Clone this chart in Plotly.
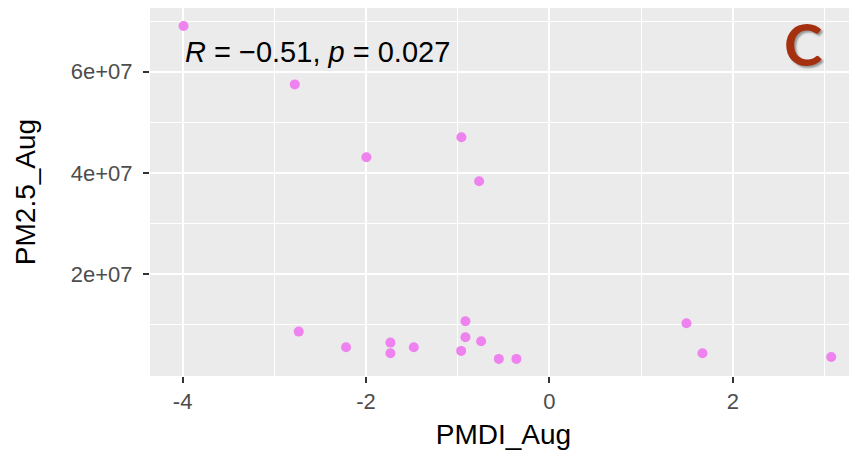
import plotly.graph_objects as go

# Data
pmdi_aug = [-3.99, -2.777, -1.996, -0.96, -0.767, -2.734, -2.218, -1.734, -1.734, -1.479,
            -0.963, -0.916, -0.916, -0.745, -0.552, -0.36, 1.494, 1.669, 3.073]
pm25_aug = [6.904e7, 5.751e7, 4.31e7, 4.705e7, 3.836e7, 0.867e7, 0.559e7, 0.650e7, 0.440e7, 0.559e7,
            0.486e7, 1.072e7, 0.756e7, 0.677e7, 0.328e7, 0.328e7, 1.033e7, 0.440e7, 0.367e7]

x_tick_vals = [-4, -2, 0, 2]
x_tick_text = ["-4", "-2", "0", "2"]
x_minor_vals = [-3, -1, 1, 3]
y_tick_vals = [2e7, 4e7, 6e7]
y_tick_text = ["2e+07", "4e+07", "6e+07"]
y_minor_vals = [1e7, 3e7, 5e7, 7e7]

stat_label = "<i>R</i> = \u22120.51, <i>p</i> = 0.027"
panel_label = "C"

fig = go.Figure()
fig.add_trace(go.Scatter(
    x=pmdi_aug, y=pm25_aug, mode="markers",
    marker=dict(color="#EE82EE", size=10, line=dict(width=0)),
    hoverinfo="skip", showlegend=False,
))

tick_font = dict(family="Liberation Sans, Arial, sans-serif", size=22, color="#4D4D4D")
title_font = dict(family="Liberation Sans, Arial, sans-serif", size=28, color="#000000")

# page body has an 8px default margin; figure sized to fit inside the window
fig.update_layout(
    width=849, height=444,
    margin=dict(l=142, r=0, t=0, b=76),
    paper_bgcolor="white", plot_bgcolor="#EBEBEB",
    xaxis=dict(
        range=[-4.356, 3.354], tickmode="array", tickvals=x_tick_vals, ticktext=x_tick_text,
        showgrid=True, gridcolor="white", gridwidth=1.5, zeroline=False,
        ticks="outside", ticklen=6, tickwidth=1.5, tickcolor="#333333",
        tickfont=tick_font, showline=False,
        minor=dict(tickmode="array", tickvals=x_minor_vals, showgrid=True,
                   gridcolor="white", gridwidth=0.8, ticks=""),
        title=dict(text="PMDI_Aug", font=title_font, standoff=10),
        automargin=False,
    ),
    yaxis=dict(
        range=[-1e5, 7.26e7], tickmode="array", tickvals=y_tick_vals, ticktext=y_tick_text,
        showgrid=True, gridcolor="white", gridwidth=1.5, zeroline=False,
        ticks="outside", ticklen=6, tickwidth=1.5, tickcolor="#333333",
        tickfont=tick_font, showline=False, ticklabelstandoff=6,
        minor=dict(tickmode="array", tickvals=y_minor_vals, showgrid=True,
                   gridcolor="white", gridwidth=0.8, ticks=""),
        title=dict(text="PM2.5_Aug", font=title_font, standoff=27),
        automargin=False,
    ),
)

fig.add_annotation(
    x=-4.0, y=6.39e7, xref="x", yref="y", text=stat_label, showarrow=False,
    xanchor="left", yanchor="middle",
    font=dict(family="Liberation Sans, Arial, sans-serif", size=29, color="#000000"),
)
# panel label with soft shadow
fig.add_annotation(
    x=2.77, y=6.55e7, xref="x", yref="y", text="<b>" + panel_label + "</b>", showarrow=False,
    xanchor="center", yanchor="middle",
    font=dict(family="Lato, Open Sans, sans-serif", size=58, color="#A5300F",
              shadow="2px 2px 2px rgba(0,0,0,0.35)"),
)

fig.write_html("out.html")
